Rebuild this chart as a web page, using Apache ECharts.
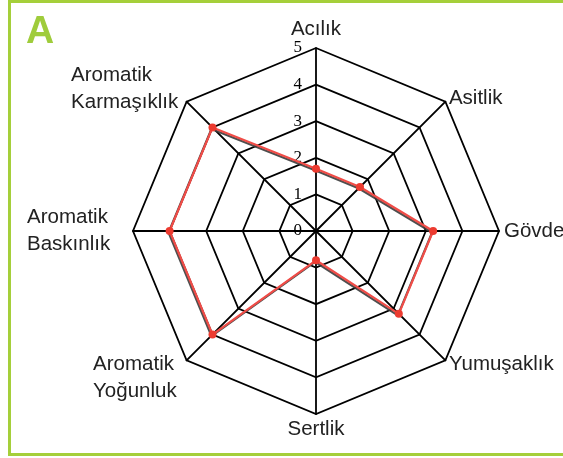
<!DOCTYPE html>
<html>
<head>
<meta charset="utf-8">
<script src="https://cdn.jsdelivr.net/npm/echarts@6/dist/echarts.min.js"></script>
<style>
html,body{margin:0;padding:0;background:#fff;}
#frame{position:absolute;left:8px;top:0px;width:560px;height:456px;border:3px solid #a5cf3a;box-sizing:border-box;border-right:none;}
#chart{position:absolute;left:0;top:0;width:563px;height:458px;}
#tag{position:absolute;left:26px;top:8px;font:bold 39px "Liberation Sans",Arial,sans-serif;color:#9fcc3b;}
</style>
</head>
<body>
<div id="frame"></div>
<div id="chart"></div>
<div id="tag">A</div>
<script>
// Indicators listed counter-clockwise starting from the top
const categories = ['Acılık', 'Aromatik\nKarmaşıklık', 'Aromatik\nBaskınlık', 'Aromatik\nYoğunluk', 'Sertlik', 'Yumuşaklık', 'Gövde', 'Asitlik'];
const values = [1.7, 4.0, 4.0, 4.0, 0.8, 3.2, 3.2, 1.7];
const axisMax = 5;
const tickLabels = ['0', '1', '2', '3', '4', '5'];

const NAME_FONT = 20.5;
const NAME_FAMILY = 'Liberation Sans';
const ctx = document.createElement('canvas').getContext('2d');
ctx.font = NAME_FONT + 'px "' + NAME_FAMILY + '"';
function lineWidth(name) {
  return Math.ceil(Math.max.apply(null, name.split('\n').map(s => ctx.measureText(s).width)));
}
// extra room to the right of multi-line names (pushes them away from the web)
const extraGap = { 1: 4, 2: 17, 3: 6 };
const base = { align: 'left', fontSize: NAME_FONT, lineHeight: 27, color: '#222', fontFamily: NAME_FAMILY };
const richStyle = {};
categories.forEach((c, i) => {
  if (c.indexOf('\n') >= 0) richStyle['n' + i] = Object.assign({}, base, { width: lineWidth(c) + (extraGap[i] || 0) });
});
richStyle.spUp = { fontSize: 1, lineHeight: 19, width: 1 };
richStyle.spDown = { fontSize: 1, lineHeight: 28, width: 1 };

const chart = echarts.init(document.getElementById('chart'));
chart.setOption({
  animation: false,
  radar: {
    center: [316, 231],
    radius: 183,
    startAngle: 90,
    splitNumber: 5,
    shape: 'polygon',
    nameGap: 5,
    indicator: categories.map((c, i) => {
      const o = { name: c, max: axisMax, min: 0 };
      if (i === 0) {
        o.axisLabel = {
          show: true,
          fontFamily: 'Liberation Serif',
          fontSize: 17,
          color: '#000',
          margin: 0,
          align: 'right',
          verticalAlign: 'middle',
          padding: [0, 14, 3, 0],
          formatter: v => tickLabels[Math.round(v)]
        };
      }
      return o;
    }),
    axisName: {
      color: '#222',
      fontSize: NAME_FONT,
      fontFamily: NAME_FAMILY,
      formatter: function (name) {
        const i = categories.indexOf(name);
        if (name.indexOf('\n') < 0) return name;
        let s = name.split('\n').map(t => '{n' + i + '|' + t + '}').join('\n');
        if (name.indexOf('Karma') >= 0) s = s + '\n{spUp| }';
        if (name.indexOf('Yoğun') >= 0) s = '{spDown| }\n' + s;
        return s;
      },
      rich: richStyle
    },
    axisLabel: { show: false },
    axisLine: { lineStyle: { color: '#000', width: 1.8 } },
    splitLine: { lineStyle: { color: '#000', width: 1.8 } },
    splitArea: { show: false },
    axisTick: { show: false }
  },
  series: [{
    type: 'radar',
    symbol: 'circle',
    symbolSize: 8,
    lineStyle: { color: '#f04c47', width: 2.2, shadowColor: 'rgba(60,60,60,0.9)', shadowOffsetX: -1, shadowOffsetY: 1.5, shadowBlur: 0 },
    itemStyle: { color: '#ec3b30' },
    data: [{ value: values }]
  }]
});
</script>
</body>
</html>
